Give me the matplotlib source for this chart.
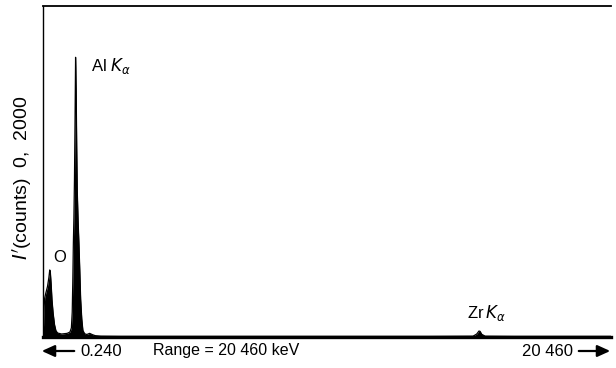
import matplotlib.pyplot as plt
from matplotlib.patches import FancyArrowPatch

# EDX spectrum: energy (keV) and counts
energy = [0.24, 0.26, 0.28, 0.30, 0.34, 0.40, 0.45, 0.48, 0.50, 0.53, 0.56, 0.60, 0.65,
          0.70, 0.76, 0.90, 1.10, 1.20, 1.25, 1.28, 1.30, 1.32, 1.34, 1.36, 1.38, 1.40,
          1.42, 1.44, 1.46, 1.49, 1.52, 1.55, 1.58, 1.62, 1.66, 1.72, 1.80, 1.90, 2.00,
          2.10, 2.30, 3.0, 6.0, 10.0, 14.0, 15.55, 15.68, 15.76, 15.80, 15.86, 15.98,
          17.0, 20.46]
counts = [10, 70, 180, 235, 265, 305, 360, 405, 395, 320, 225, 145, 75,
          38, 24, 18, 22, 30, 55, 150, 330, 560, 720, 950, 1300, 1690,
          1500, 1150, 880, 700, 560, 400, 230, 110, 40, 20, 15, 22, 14,
          8, 5, 4, 4, 4, 4, 5, 18, 36, 34, 16, 5,
          4, 4]

x_min, x_max = 0.24, 20.46
y_max = 2000

fig = plt.figure(figsize=(6.16, 3.68), dpi=100)
ax = fig.add_axes([43/616, 1-337/368, 568/616, 331/368])

ax.fill_between(energy, 0, counts, color='black', lw=0)
ax.plot(energy, counts, color='black', lw=0.9)

ax.set_xlim(x_min, x_max)
ax.set_ylim(0, y_max)
ax.set_xticks([])
ax.set_yticks([])
ax.spines['right'].set_visible(False)
ax.spines['bottom'].set_linewidth(2.4)
ax.spines['left'].set_linewidth(1.0)
ax.spines['top'].set_linewidth(1.3)

fnt = dict(family='Liberation Sans', color='black')
ax.text(1.95, 1640, r'Al $K_\alpha$', fontsize=12, va='center', **fnt)
ax.text(0.62, 480, 'O', fontsize=12, va='center', **fnt)
ax.text(15.35, 145, r'Zr$\,K_\alpha$', fontsize=12, va='center', **fnt)

fig.text(22/616, 1-178/368, r"$I'$(counts)  0,  2000", rotation=90, fontsize=14,
         ha='center', va='center', **fnt)

ybot = 1-351/368
fig.text(80/616, ybot, '0.240', fontsize=12, ha='left', va='center', **fnt)
fig.text(153/616, ybot, 'Range = 20 460 keV', fontsize=11.5, ha='left', va='center', **fnt)
fig.text(573/616, ybot, '20 460', fontsize=12, ha='right', va='center', **fnt)
for x0, x1 in [(77, 39), (576, 613)]:
    fig.add_artist(FancyArrowPatch(
        (x0/616, ybot), (x1/616, ybot), transform=fig.transFigure,
        arrowstyle='-|>,head_length=0.55,head_width=0.25', mutation_scale=14,
        color='black', lw=1.6))

fig.savefig('out.png', dpi=100)
